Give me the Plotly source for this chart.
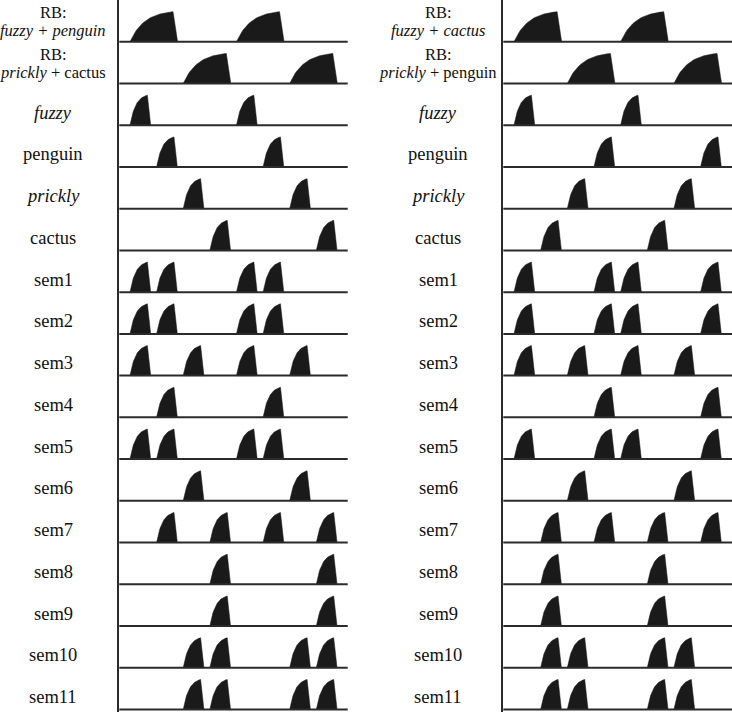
import numpy as np
import plotly.graph_objects as go

# row labels (top to bottom)
left_labels = [("RB:", "<i>fuzzy + penguin</i>"), ("RB:", "<i>prickly</i> + cactus"),
               "<i>fuzzy</i>", "penguin", "<i>prickly</i>", "cactus",
               "sem1", "sem2", "sem3", "sem4", "sem5", "sem6", "sem7", "sem8", "sem9", "sem10", "sem11"]
right_labels = [("RB:", "<i>fuzzy + cactus</i>"), ("RB:", "<i>prickly</i> + penguin"),
                "<i>fuzzy</i>", "penguin", "<i>prickly</i>", "cactus",
                "sem1", "sem2", "sem3", "sem4", "sem5", "sem6", "sem7", "sem8", "sem9", "sem10", "sem11"]

# pulse onsets, in time slots
left_onsets = [[0, 4], [2, 6], [0, 4], [1, 5], [2, 6], [3, 7],
               [0, 1, 4, 5], [0, 1, 4, 5], [0, 2, 4, 6], [1, 5], [0, 1, 4, 5], [2, 6],
               [1, 3, 5, 7], [3, 7], [3, 7], [2, 3, 6, 7], [2, 3, 6, 7]]
right_onsets = [[0, 4], [2, 6], [0, 4], [3, 7], [2, 6], [1, 5],
                [0, 3, 4, 7], [0, 3, 4, 7], [0, 2, 4, 6], [3, 7], [0, 3, 4, 7], [2, 6],
                [1, 3, 5, 7], [1, 5], [1, 5], [1, 2, 5, 6], [1, 2, 5, 6]]

# pulse lengths (slots): RB rows are long, the rest short
pulse_len = [1.79, 1.79] + [0.78] * 15

W, H = 732, 712
n = len(left_labels)
ink = "#1a1a1a"
serif = "'Liberation Serif', 'Times New Roman', 'DejaVu Serif', serif"


def pulse(s, length, base, h=0.72):
    fall = 0.125 if length < 1 else 0.17
    rise = length - fall
    u = np.linspace(0, 1, 40)
    k = 3.0
    f = (1 - np.exp(-k * u)) / (1 - np.exp(-k))
    xs = list(s + u * rise) + [s + length, s]
    ys = list(base + h * f) + [base, base]
    return xs, ys


fig = go.Figure()

for col, (onsets, xa, ya) in enumerate([(left_onsets, "x", "y"), (right_onsets, "x2", "y2")]):
    px_, py_ = [], []
    for r, row in enumerate(onsets):
        base = n - 1 - r
        for s in row:
            xs, ys = pulse(s, pulse_len[r], base)
            px_ += xs + [None]
            py_ += ys + [None]
    fig.add_trace(go.Scatter(x=px_, y=py_, mode="lines", fill="toself",
                             fillcolor=ink, line=dict(color=ink, width=0.5),
                             xaxis=xa, yaxis=ya, hoverinfo="skip", showlegend=False))
    for r in range(n):
        fig.add_shape(type="line", xref=xa + " domain", x0=0, x1=1,
                      yref=ya, y0=n - 1 - r, y1=n - 1 - r,
                      line=dict(color="#2b2b2b", width=2))

# labels
for labels, xc, ya in [(left_labels, 53 / W, "y"), (right_labels, 438 / W, "y2")]:
    for r, lab in enumerate(labels):
        base = n - 1 - r
        if isinstance(lab, tuple):
            fig.add_annotation(x=xc, y=base + 0.70, xref="paper", yref=ya, text=lab[0],
                               showarrow=False, xanchor="center", yanchor="middle",
                               font=dict(family=serif, size=16.5, color="#111"))
            fig.add_annotation(x=xc, y=base + 0.26, xref="paper", yref=ya, text=lab[1],
                               showarrow=False, xanchor="center", yanchor="middle",
                               font=dict(family=serif, size=16.5, color="#111"))
        else:
            fig.add_annotation(x=xc, y=base + 0.3, xref="paper", yref=ya, text=lab,
                               showarrow=False, xanchor="center", yanchor="middle",
                               font=dict(family=serif, size=18.5, color="#111"))

xr = [-0.40, 8.18]
yr = [-0.06, n]
fig.update_layout(
    width=W, height=H,
    margin=dict(l=0, r=0, t=0, b=0),
    font=dict(family=serif),
    plot_bgcolor="white", paper_bgcolor="white",
    xaxis=dict(domain=[119.3 / W, 347.7 / W], range=xr, visible=False),
    xaxis2=dict(domain=[503.3 / W, 1.0], range=xr, visible=False),
    yaxis=dict(domain=[0, 1], range=yr, anchor="x", showline=True, linecolor="#2b2b2b",
               linewidth=2, showgrid=False, zeroline=False, showticklabels=False, ticks=""),
    yaxis2=dict(domain=[0, 1], range=yr, anchor="x2", showline=True, linecolor="#2b2b2b",
                linewidth=2, showgrid=False, zeroline=False, showticklabels=False, ticks=""),
)

fig.write_html("out.html", config={"displayModeBar": False},
               post_script="document.body.style.margin='0';")
